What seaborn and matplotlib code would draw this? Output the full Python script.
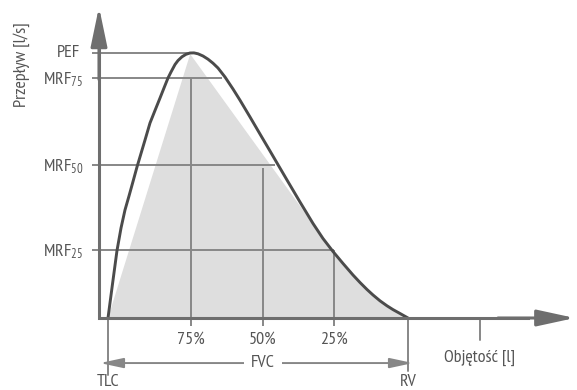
import numpy as np
import pandas as pd
import matplotlib
matplotlib.use("Agg")
import matplotlib.pyplot as plt
import seaborn as sns

# ---- data (volume in l from TLC, flow in l/s) ----
curve_vol = [0.000, 0.075, 0.150, 0.217, 0.283, 0.350, 0.417, 0.483, 0.550, 0.617,
             0.700, 0.783, 0.867, 0.933, 1.000, 1.050, 1.117, 1.167, 1.233, 1.300,
             1.367, 1.433, 1.500, 1.583, 1.667, 1.750, 1.833, 1.950, 2.083, 2.200,
             2.367, 2.533, 2.700, 2.817, 2.983, 3.200, 3.417, 3.583, 3.750, 3.917,
             4.083, 4.200, 4.317, 4.417, 4.533, 4.650, 4.750, 4.867, 5.000]
curve_flow = [0.000, 1.283, 2.547, 3.396, 4.075, 4.604, 5.151, 5.698, 6.208, 6.717,
              7.358, 7.830, 8.302, 8.679, 9.057, 9.283, 9.566, 9.717, 9.857, 9.951,
              10.000, 10.004, 9.970, 9.887, 9.766, 9.615, 9.434, 9.094, 8.642, 8.219,
              7.585, 6.943, 6.302, 5.849, 5.208, 4.377, 3.566, 3.000, 2.509, 2.057,
              1.623, 1.340, 1.075, 0.868, 0.649, 0.460, 0.317, 0.170, 0.000]

gray_vol = [0.000, 1.370, 3.750, 3.917, 4.083, 4.200, 4.317, 4.417, 4.533, 4.650, 4.750, 4.867, 5.000]
gray_flow = [0.000, 9.960, 2.509, 2.057, 1.623, 1.340, 1.075, 0.868, 0.649, 0.460, 0.317, 0.170, 0.000]

level_names = ["PEF", r"MRF$_{\mathregular{75}}$", r"MRF$_{\mathregular{50}}$", r"MRF$_{\mathregular{25}}$"]
level_flow = [10.00, 9.06, 5.79, 2.55]
level_end_vol = [1.38, 1.90, 2.79, 3.77]

pct_labels = ["75%", "50%", "25%"]
pct_vol = [1.38, 2.58, 3.77]
pct_top = [9.06, 5.66, 2.55]

tlc_vol = 0.0
rv_vol = 5.0
vol_tick = 6.2

sns.set_theme(style="white")
FONT = ["PT Sans Narrow", "Roboto Condensed", "DejaVu Sans"]
plt.rcParams["font.family"] = FONT
plt.rcParams["mathtext.fontset"] = "custom"
plt.rcParams["mathtext.rm"] = "PT Sans Narrow"
plt.rcParams["mathtext.it"] = "PT Sans Narrow"

TXT = "#555555"
AX = "#6e6e6e"
GRID = "#878787"
CURVE = "#4b4b4b"
FS = 13

fig = plt.figure(figsize=(5.77, 3.9), dpi=100)
ax = fig.add_axes([0, 0, 1, 1])

# gray triangle-like region
ax.fill(gray_vol, gray_flow, color="#dedede", lw=0, zorder=1)

# level lines and labels
y_axis_x = -0.15
for name, f, ve in zip(level_names, level_flow, level_end_vol):
    ax.plot([-0.267, ve], [f, f], color=GRID, lw=1.4, zorder=2, solid_capstyle="butt")
    if name == "PEF":
        ax.text(-0.47, f, name, ha="right", va="center", fontsize=FS, color=TXT)
    else:
        ax.text(-0.41, f - 0.24, name, ha="right", va="baseline", fontsize=FS, color=TXT)

# percentage verticals and labels
for lab, v, top in zip(pct_labels, pct_vol, pct_top):
    ax.plot([v, v], [top, -0.3], color=GRID, lw=1.4, zorder=2, solid_capstyle="butt")
    ax.text(v, -0.83, lab, ha="center", va="center", fontsize=FS, color=TXT)

# curve
df = pd.DataFrame({"vol": curve_vol, "flow": curve_flow})
sns.lineplot(data=df, x="vol", y="flow", sort=False, estimator=None, color=CURVE,
             lw=2.1, ax=ax, zorder=5, solid_joinstyle="round")

ax.set_xlim(-1.8, 7.8167)
ax.set_ylim(-2.717, 12.0)
ax.axis("off")

# axes with arrows
ax.plot([y_axis_x, y_axis_x, 7.0], [10.5, 0, 0], color=AX, lw=2.2, zorder=6,
        solid_joinstyle="miter", solid_capstyle="projecting")
ax.annotate("", xy=(y_axis_x, 11.74), xytext=(y_axis_x, 9.0),
            arrowprops=dict(arrowstyle="-|>,head_length=2.4,head_width=0.5",
                            mutation_scale=10, lw=2.2, color=AX, shrinkA=0, shrinkB=0),
            zorder=6)
ax.annotate("", xy=(7.78, 0), xytext=(6.5, 0),
            arrowprops=dict(arrowstyle="-|>,head_length=2.3,head_width=0.5",
                            mutation_scale=10, lw=2.2, color=AX, shrinkA=0, shrinkB=0),
            zorder=6)

# TLC / RV markers and FVC arrow
ax.plot([tlc_vol, tlc_vol], [0, -2.15], color=GRID, lw=1.4, zorder=2)
ax.plot([rv_vol, rv_vol], [0, -2.0], color=GRID, lw=1.4, zorder=2)
ax.plot([vol_tick, vol_tick], [0, -0.83], color=GRID, lw=1.4, zorder=2)
ax.annotate("", xy=(-0.133, -1.70), xytext=(5.083, -1.70),
            arrowprops=dict(arrowstyle="<|-|>,head_length=1.4,head_width=0.3",
                            mutation_scale=10, lw=1.4, color=GRID, shrinkA=0, shrinkB=0),
            zorder=2)
ax.text(2.58, -1.70, "FVC", ha="center", va="center", fontsize=FS, color=TXT, zorder=4,
        bbox=dict(facecolor="white", edgecolor="none", pad=5))
ax.text(tlc_vol, -2.415, "TLC", ha="center", va="center", fontsize=FS, color=TXT)
ax.text(rv_vol, -2.415, "RV", ha="center", va="center", fontsize=FS, color=TXT)
ax.text(vol_tick, -1.51, "Objętość [l]", ha="center", va="center", fontsize=FS, color=TXT)

ax.text(-1.433, 9.55, "Przepływ [l/s]", rotation=90, ha="center", va="center",
        fontsize=FS, color=TXT)

fig.savefig("out.png", dpi=100)
